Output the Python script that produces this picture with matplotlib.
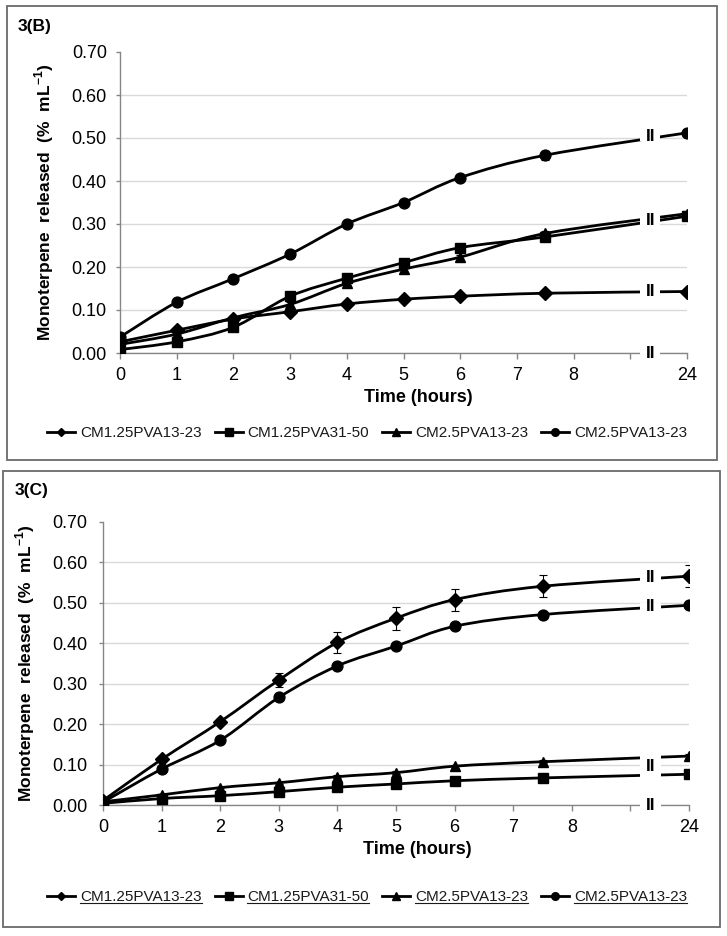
import numpy as np
import matplotlib
matplotlib.use('Agg')
import matplotlib.pyplot as plt
from matplotlib.path import Path
from matplotlib.patches import PathPatch, Rectangle
from matplotlib.lines import Line2D
from matplotlib.transforms import IdentityTransform

plt.rcParams['font.family'] = ['Liberation Sans', 'DejaVu Sans']
plt.rcParams['mathtext.fontset'] = 'custom'
plt.rcParams['mathtext.rm'] = 'Liberation Sans:bold'
plt.rcParams['mathtext.bf'] = 'Liberation Sans:bold'

# sampling times (hours); 24 h sits after the axis break
time_h = [0, 1, 2, 3, 4, 5, 6, 7.5, 24]
tick_labels = ['0', '1', '2', '3', '4', '5', '6', '7', '8', '', '24']
series_names = ['CM1.25PVA13-23', 'CM1.25PVA31-50', 'CM2.5PVA13-23', 'CM2.5PVA13-23']
markers = ['D', 's', '^', 'o']

# panel 3(B)
b_diamond = [0.026, 0.053, 0.079, 0.096, 0.114, 0.125, 0.132, 0.139, 0.143]
b_square = [0.008, 0.026, 0.060, 0.132, 0.174, 0.210, 0.245, 0.270, 0.318]
b_triangle = [0.020, 0.044, 0.082, 0.113, 0.162, 0.195, 0.223, 0.278, 0.324]
b_circle = [0.037, 0.118, 0.173, 0.230, 0.300, 0.350, 0.408, 0.460, 0.512]
b_err_diamond = [0.002, 0.003, 0.003, 0.003, 0.004, 0.004, 0.004, 0.005, 0.005]
b_err_square = [0.002, 0.003, 0.004, 0.005, 0.005, 0.006, 0.006, 0.006, 0.006]
b_err_triangle = [0.002, 0.003, 0.004, 0.005, 0.005, 0.006, 0.006, 0.006, 0.006]
b_err_circle = [0.003, 0.005, 0.005, 0.005, 0.005, 0.006, 0.006, 0.010, 0.008]

# panel 3(C)
c_diamond = [0.011, 0.113, 0.206, 0.309, 0.402, 0.462, 0.508, 0.541, 0.566]
c_square = [0.004, 0.016, 0.023, 0.033, 0.044, 0.052, 0.060, 0.067, 0.076]
c_triangle = [0.008, 0.025, 0.043, 0.055, 0.070, 0.080, 0.096, 0.107, 0.121]
c_circle = [0.007, 0.089, 0.160, 0.266, 0.344, 0.393, 0.442, 0.471, 0.494]
c_err_diamond = [0.002, 0.004, 0.006, 0.017, 0.027, 0.028, 0.027, 0.027, 0.027]
c_err_square = [0.001, 0.002, 0.002, 0.003, 0.003, 0.003, 0.003, 0.003, 0.003]
c_err_triangle = [0.001, 0.002, 0.002, 0.003, 0.003, 0.003, 0.004, 0.004, 0.004]
c_err_circle = [0.002, 0.004, 0.004, 0.005, 0.006, 0.006, 0.006, 0.006, 0.006]

# where the "II" break marks go: (y centre, white band height) in data units
b_breaks = [(0.503, 0.02), (0.307, 0.03), (0.142, 0.02), (0.0, 0.02)]
c_breaks = [(0.562, 0.02), (0.490, 0.02), (0.096, 0.062), (0.0, 0.02)]

W, H = 727, 936
SPINE = '#868686'


def xpos(t):
    # hours -> position on the broken axis
    return [v if v <= 9 else 10 for v in t]


def smooth_path(x, y):
    # Excel-like smoothed line (Catmull-Rom as cubic Bezier)
    pts = np.column_stack([x, y]).astype(float)
    n = len(pts)
    verts = [pts[0]]
    codes = [Path.MOVETO]
    for i in range(n - 1):
        p0 = pts[max(i - 1, 0)]
        p1 = pts[i]
        p2 = pts[i + 1]
        p3 = pts[min(i + 2, n - 1)]
        verts += [p1 + (p2 - p0) / 6, p2 - (p3 - p1) / 6, p2]
        codes += [Path.CURVE4] * 3
    return Path(verts, codes)


def draw_panel(ax, data, errs, breaks, ypad):
    x = xpos(time_h)
    for vals, err, m in zip(data, errs, markers):
        ax.add_patch(PathPatch(smooth_path(x, vals), fill=False, color='black',
                               lw=2.0, zorder=3, capstyle='round'))
        ax.errorbar(x, vals, yerr=err, fmt='none', ecolor='black',
                    elinewidth=0.8, capsize=3, capthick=0.8, zorder=3)
        ms = 6.8 if m == 'D' else 7.8
        ax.plot(x, vals, linestyle='none', marker=m, markersize=ms,
                color='black', zorder=4)

    for yc, h in breaks:
        ax.add_patch(Rectangle((9.17, yc - h / 2), 0.36, h, facecolor='white',
                               edgecolor='none', zorder=5, clip_on=False))
        ax.text(9.35, yc, 'II', ha='center', va='center', fontsize=12.5,
                fontweight='bold', zorder=6, clip_on=False)

    ax.set_xlim(0, 10)
    ax.set_ylim(0, 0.70)
    ax.set_xticks(range(11))
    ax.set_xticklabels(tick_labels)
    ax.set_yticks(np.arange(0, 0.71, 0.1))
    ax.set_yticklabels([f'{v:.2f}' for v in np.arange(0, 0.71, 0.1)])
    ax.tick_params(axis='x', length=4, width=1, color=SPINE, pad=6, labelsize=13)
    ax.tick_params(axis='y', length=3, width=1, color=SPINE, pad=ypad, labelsize=13)
    for s in ['top', 'right']:
        ax.spines[s].set_visible(False)
    for s in ['left', 'bottom']:
        ax.spines[s].set_color(SPINE)
        ax.spines[s].set_linewidth(1)
    ax.yaxis.grid(True, color='#d9d9d9', lw=1)
    ax.set_axisbelow(True)
    # no gridline on the top tick
    ax.get_ygridlines()[-1].set_visible(False)


fig = plt.figure(figsize=(W / 100, H / 100), dpi=100)

# panel frames
fig.add_artist(Rectangle((7 / W, 1 - 460 / H), 710 / W, 454 / H, transform=fig.transFigure,
                         facecolor='none', edgecolor='#6a6a6a', lw=1.3))
fig.add_artist(Rectangle((3 / W, 1 - 927 / H), 717 / W, 456 / H, transform=fig.transFigure,
                         facecolor='none', edgecolor='#6a6a6a', lw=1.3))

ax_b = fig.add_axes([120 / W, 1 - 353 / H, 567 / W, 301 / H])
draw_panel(ax_b, [b_diamond, b_square, b_triangle, b_circle],
           [b_err_diamond, b_err_square, b_err_triangle, b_err_circle], b_breaks, 6.5)

ax_c = fig.add_axes([103 / W, 1 - 805 / H, 586 / W, 283 / H])
draw_panel(ax_c, [c_diamond, c_square, c_triangle, c_circle],
           [c_err_diamond, c_err_square, c_err_triangle, c_err_circle], c_breaks, 8.5)

ylab = 'Monoterpene  released  (%  mL$^{-1}$)'
fig.text(18 / W, 1 - 27 / H, '3(B)', fontsize=12.5, fontweight='bold', va='center')
fig.text(15 / W, 1 - 490 / H, '3(C)', fontsize=12.5, fontweight='bold', va='center')
fig.text(44 / W, 1 - 202 / H, ylab, rotation=90, ha='center', va='center',
         fontsize=12.5, fontweight='bold')
fig.text(25 / W, 1 - 663 / H, ylab, rotation=90, ha='center', va='center',
         fontsize=12.5, fontweight='bold')
fig.text(418 / W, 1 - 398 / H, 'Time (hours)', ha='center', va='center',
         fontsize=13, fontweight='bold')
fig.text(417 / W, 1 - 850 / H, 'Time (hours)', ha='center', va='center',
         fontsize=13, fontweight='bold')

handles = [Line2D([], [], color='black', lw=2, marker=m,
                  markersize=4.5 if m == 'D' else 5.5) for m in markers]
leg_kw = dict(ncol=4, frameon=False, loc='center', fontsize=11, handlelength=1.85,
              handletextpad=0.3, columnspacing=0.85, borderpad=0, labelcolor='#1a1a1a')
leg_b = fig.legend(handles, series_names, bbox_to_anchor=(367 / W, 1 - 433 / H), **leg_kw)
leg_c = fig.legend(handles, series_names, bbox_to_anchor=(367 / W, 1 - 897 / H), **leg_kw)

# underline the legend labels of panel C
fig.canvas.draw()
for t in leg_c.get_texts():
    bb = t.get_window_extent()
    fig.add_artist(Line2D([bb.x0, bb.x1], [bb.y0 + 1, bb.y0 + 1], color='#1a1a1a',
                          lw=0.8, transform=IdentityTransform()))

fig.savefig('out.png', dpi=100)
